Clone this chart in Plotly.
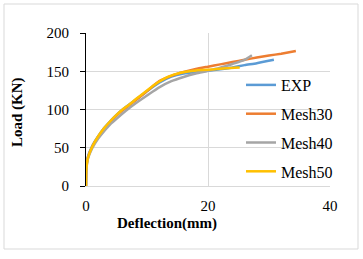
import plotly.graph_objects as go

exp_x = [0, 0.05, 0.3, 1.0, 2.0, 3.0, 4.0, 5.0, 6.0, 8.0, 10.0, 12.0, 14.0, 16.0, 18.0, 20.0, 22.0, 24.0, 26.0, 28.0, 30.8]
exp_y = [0, 25, 38, 52, 65, 76, 85, 93, 100, 112, 124, 135, 143, 147, 149, 150.5, 152.5, 155, 158, 160.5, 165]

m30_x = [0, 0.05, 0.3, 1.0, 2.0, 3.0, 4.0, 5.0, 6.0, 8.0, 10.0, 12.0, 14.0, 16.0, 18.0, 20.0, 22.0, 24.0, 26.0, 28.0, 30.0, 32.0, 34.4]
m30_y = [0, 22, 37, 51, 64, 75, 84, 92, 99, 111, 124, 137, 144, 149, 153, 156, 159, 162, 165, 168, 170.5, 173, 176.5]

m40_x = [0, 0.05, 0.3, 1.0, 2.0, 3.0, 4.0, 5.0, 6.8, 8.5, 10.3, 12.0, 14.0, 16.0, 18.0, 20.0, 22.0, 24.0, 26.0, 27.2]
m40_y = [0, 20, 35, 49, 62, 72, 81, 88, 100, 110, 120, 129, 137, 142.5, 147, 150.5, 154.5, 159.5, 165, 171]

m50_x = [0, 0.05, 0.3, 1.0, 2.0, 3.0, 4.0, 5.0, 6.0, 7.0, 8.4, 10.0, 11.7, 13.5, 15.5, 17.0, 19.0, 21.0, 23.0, 25.2]
m50_y = [0, 22, 36, 51, 65, 76, 85, 93, 100, 106, 115, 125, 135, 143, 148, 150, 151.5, 152.5, 154, 155]

series = [
    ("EXP", exp_x, exp_y, "#5B9BD5"),
    ("Mesh30", m30_x, m30_y, "#ED7D31"),
    ("Mesh40", m40_x, m40_y, "#A5A5A5"),
    ("Mesh50", m50_x, m50_y, "#FFC000"),
]

x_title = "Deflection(mm)"
y_title = "Load (KN)"

fig = go.Figure()
for name, xs, ys, col in series:
    fig.add_trace(go.Scatter(x=xs, y=ys, mode="lines", name=name, legendgroup=name,
                             line=dict(color=col, width=2.5, shape="spline", smoothing=0.5)))

font = "Liberation Serif"
L, T, W, H = 86, 33, 363, 259
pw, ph = 330 - L, 186 - T

fig.update_layout(
    width=W, height=H,
    margin=dict(l=L, r=W - 330, t=T, b=H - 186),
    paper_bgcolor="white", plot_bgcolor="white",
    font=dict(family=font, size=15, color="#000000"),
    showlegend=True,
    legend=dict(x=(241 - L) / pw, y=(186 - 68) / ph, xanchor="left", yanchor="top",
                bgcolor="rgba(0,0,0,0)", font=dict(size=16, family=font),
                tracegroupgap=5, itemwidth=30),
    xaxis=dict(range=[0, 40], dtick=20, showgrid=True, gridcolor="#D9D9D9", gridwidth=1,
               zeroline=False, showline=True, linecolor="#D9D9D9", ticks="",
               ticklabelstandoff=6,
               tickfont=dict(size=15, family=font)),
    yaxis=dict(range=[0, 200], dtick=50, showgrid=True, gridcolor="#D9D9D9", gridwidth=1,
               zeroline=False, showline=True, linecolor="#000000", linewidth=1,
               ticks="outside", ticklen=5, tickcolor="#000000",
               ticklabelstandoff=8,
               tickfont=dict(size=15, family=font)),
    annotations=[
        dict(text="<b>" + x_title + "</b>", xref="paper", yref="paper",
             x=(167 - L) / pw, y=(186 - 223) / ph, xanchor="center", yanchor="middle",
             showarrow=False, font=dict(size=15, family=font)),
        dict(text="<b>" + y_title + "</b>", xref="paper", yref="paper",
             x=(18 - L) / pw, y=(186 - 112) / ph, xanchor="center", yanchor="middle",
             textangle=-90, showarrow=False, font=dict(size=15, family=font)),
    ],
    shapes=[dict(type="rect", xref="paper", yref="paper",
                 x0=(4 - L) / pw, x1=(358 - L) / pw, y0=(186 - 249) / ph, y1=(186 - 4) / ph,
                 line=dict(color="#D9D9D9", width=1), fillcolor="rgba(0,0,0,0)", layer="below")],
)

fig.write_html("out.html", config={"displayModeBar": False},
               post_script="document.body.style.margin='0px';document.body.style.padding='0px';")
